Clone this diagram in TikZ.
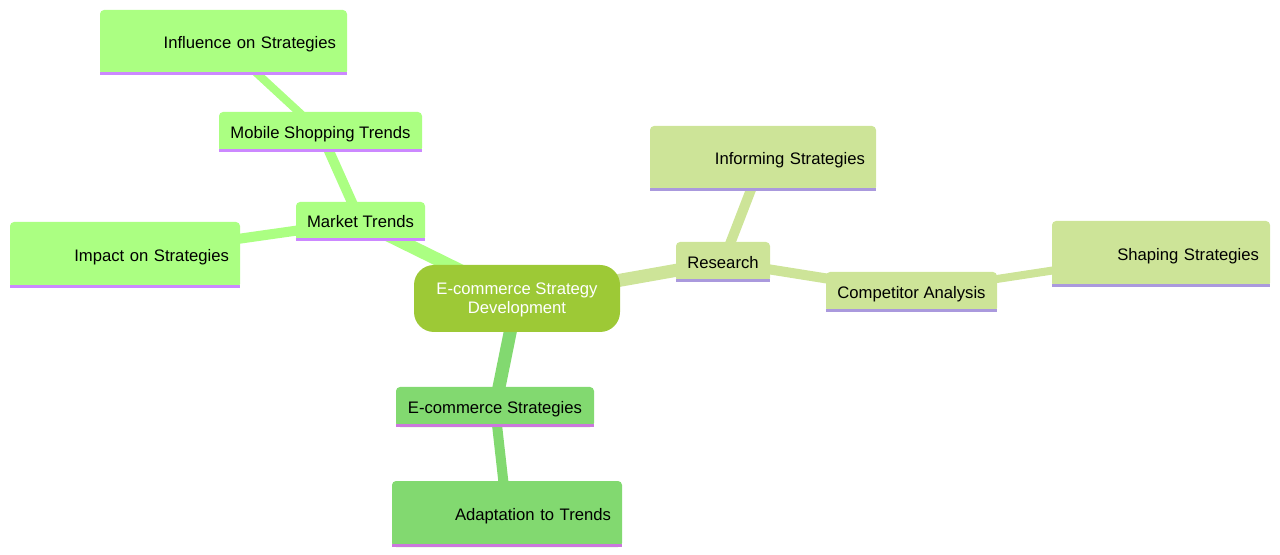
\documentclass[tikz,border=0pt]{standalone}
\usepackage{fontspec}
\setmainfont{Liberation Sans}
\usetikzlibrary{backgrounds}
\definecolor{rootc}{HTML}{9DC936}
\definecolor{secA}{HTML}{ABFF82}
\definecolor{ulA}{HTML}{CC88FF}
\definecolor{secB}{HTML}{CDE498}
\definecolor{ulB}{HTML}{AA99DD}
\definecolor{secC}{HTML}{82D970}
\definecolor{ulC}{HTML}{CC77DD}
\tikzset{
  base/.style={inner sep=0pt, rounded corners=3pt, font=\fontsize{12.5pt}{14.5pt}\selectfont, text=black},
  rootnode/.style={base, fill=rootc, rounded corners=15pt, text=white, align=center, text depth=-3pt,
    minimum width=154.5pt, minimum height=50.25pt},
  mid/.style={base, minimum height=30pt, text depth=0pt},
  leaf/.style={base, inner xsep=8.25pt, align=right, minimum height=49.5pt, text depth=0pt},
  edge1/.style={line width=9.75pt},
  edge2/.style={line width=7.5pt},
  edge3/.style={line width=6pt},
}
\begin{document}
\begin{tikzpicture}[x=0.75pt,y=-0.75pt]
\useasboundingbox (0,0) rectangle (1280,555);
% nodes
\node[rootnode] (root) at (517,298.5) {E-commerce Strategy\\Development};
\node[mid, fill=secA, minimum width=96.75pt, minimum height=29.25pt] (mt) at (360.5,221.5) {Market Trends};
\node[mid, fill=secA, minimum width=152.25pt] (mst) at (320.5,132) {Mobile Shopping Trends};
\node[leaf, fill=secA, text width=168.75pt, minimum height=48.75pt] (ios) at (223.5,42.5) {Influence on Strategies};
\node[leaf, fill=secA, text width=156pt] (ips) at (125,255) {Impact on Strategies};
\node[mid, fill=secB, minimum width=70.5pt] (res) at (723,262) {Research};
\node[leaf, fill=secB, text width=153pt, minimum height=48.75pt] (inf) at (763,158.5) {Informing Strategies};
\node[mid, fill=secB, minimum width=128.25pt] (ca) at (911.5,292) {Competitor Analysis};
\node[leaf, fill=secB, text width=147pt] (ss) at (1161,254) {Shaping Strategies};
\node[mid, fill=secC, minimum width=148.5pt] (es) at (495,407) {E-commerce Strategies};
\node[leaf, fill=secC, text width=156pt] (at) at (507,514) {Adaptation to Trends};
% underlines
\foreach \n/\c in {mt/ulA,mst/ulA,ios/ulA,ips/ulA,res/ulB,inf/ulB,ca/ulB,ss/ulB,es/ulC,at/ulC}
  \fill[\c] (\n.south west) rectangle ([yshift=2.25pt]\n.south east);
% edges
\begin{scope}[on background layer]
\draw[edge1, secA] (root.center) -- (mt.center);
\draw[edge2, secA] (mt.center) -- (mst.center);
\draw[edge3, secA] (mst.center) -- (ios.center);
\draw[edge2, secA] (mt.center) -- (ips.center);
\draw[edge1, secB] (root.center) -- (res.center);
\draw[edge2, secB] (res.center) -- (inf.center);
\draw[edge2, secB] (res.center) -- (ca.center);
\draw[edge3, secB] (ca.center) -- (ss.center);
\draw[edge1, secC] (root.center) -- (es.center);
\draw[edge2, secC] (es.center) -- (at.center);
\end{scope}
\end{tikzpicture}
\end{document}
